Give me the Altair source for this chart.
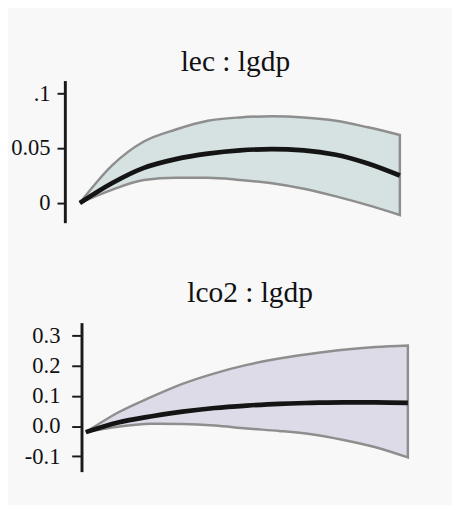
import altair as alt
import pandas as pd

periods = list(range(11))

# lec : lgdp
lec_upper = [0.0, 0.034, 0.056, 0.067, 0.075, 0.078, 0.079, 0.078, 0.075, 0.069, 0.062]
lec_mean = [0.0, 0.018, 0.032, 0.040, 0.045, 0.048, 0.049, 0.048, 0.044, 0.036, 0.025]
lec_lower = [0.0, 0.012, 0.021, 0.023, 0.023, 0.021, 0.018, 0.013, 0.006, -0.002, -0.011]

# lco2 : lgdp
co2_upper = [-0.02, 0.045, 0.095, 0.14, 0.175, 0.203, 0.224, 0.24, 0.253, 0.262, 0.267]
co2_mean = [-0.02, 0.012, 0.032, 0.048, 0.06, 0.068, 0.074, 0.077, 0.079, 0.079, 0.077]
co2_lower = [-0.02, -0.002, 0.008, 0.007, 0.002, -0.008, -0.016, -0.027, -0.046, -0.07, -0.104]

top_ticks = [0, 0.05, 0.1]
bottom_ticks = [-0.1, 0.0, 0.1, 0.2, 0.3]

SERIF = "Liberation Serif"


def panel(title, up, mid, lo, ydom, ticks, label_expr, fill, xdom, height,
          title_dx, title_dy, title_offset, axis_offset, tick_size, label_pad):
    df = pd.DataFrame({"p": periods, "u": up, "m": mid, "l": lo})
    x = alt.X("p:Q", scale=alt.Scale(domain=xdom, nice=False, zero=False), axis=None)
    yscale = alt.Scale(domain=ydom, nice=False, zero=False)
    axis = alt.Axis(
        values=ticks, tickCount=len(ticks) + 2, labelExpr=label_expr, title=None, grid=False,
        domainColor="#1a1a1a", domainWidth=3, tickColor="#1a1a1a", tickWidth=2,
        tickSize=tick_size, labelFont=SERIF, labelFontSize=23, labelColor="#111111",
        labelPadding=label_pad, offset=axis_offset, labelOverlap=False,
    )
    band = alt.Chart(df).mark_area(
        interpolate="monotone", fill=fill, stroke="#8e8e8e", strokeWidth=2.5, opacity=1
    ).encode(x=x, y=alt.Y("u:Q", scale=yscale, axis=axis), y2="l:Q")
    line = alt.Chart(df).mark_line(
        interpolate="monotone", color="#141414", strokeWidth=4.8
    ).encode(x=x, y=alt.Y("m:Q", scale=yscale))
    return alt.layer(band, line).properties(
        width=352, height=height,
        title=alt.TitleParams(
            title, font=SERIF, fontSize=30, fontWeight="normal", color="#111111",
            baseline="alphabetic", offset=title_offset, dx=title_dx, dy=title_dy,
        ),
    )


top = panel(
    "lec : lgdp", lec_upper, lec_mean, lec_lower, [-0.018, 0.1116], top_ticks,
    "datum.value == 0.1 ? '.1' : datum.value == 0.05 ? '0.05' : '0'",
    "#d6e1e1", [-0.469, 10.3125], 145, -2, 25, 5, 0, 8, 7,
)
bottom = panel(
    "lco2 : lgdp", co2_upper, co2_mean, co2_lower, [-0.151, 0.343], bottom_ticks,
    "datum.value < 0 ? '-' + format(-datum.value, '.1f') : format(datum.value, '.1f')",
    "#dedbe8", [-0.652, 10.062], 152, 13, 28, 19, -17, 10, 12,
)

chart = alt.vconcat(top, bottom, spacing=57).properties(
    background="#f8f8f9",
    padding={"left": 2, "top": 35, "right": 35, "bottom": 29},
).configure_view(stroke=None)

chart.save("out.html", embed_options={"renderer": "svg", "actions": False})
